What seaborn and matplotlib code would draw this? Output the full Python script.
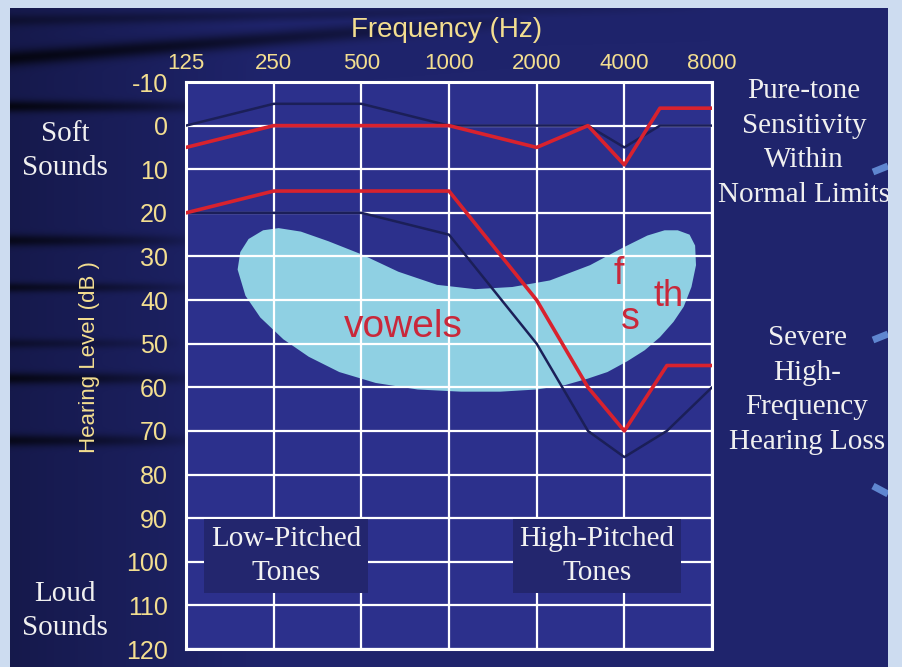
import numpy as np
import pandas as pd
import matplotlib
matplotlib.use("Agg")
import matplotlib.pyplot as plt
import seaborn as sns

# ---- data ----
freq_ticks = [125, 250, 500, 1000, 2000, 4000, 8000]
db_ticks = list(range(-10, 130, 10))

# normal-limits audiogram (red) and its dark reference trace
normal_freq = [125, 250, 500, 1000, 2000, 3000, 4000, 5300, 8000]
normal_db = [5, 0, 0, 0, 5, 0, 9, -4, -4]
normal_ref_freq = [125, 250, 500, 1000, 2000, 3000, 4000, 5300, 8000]
normal_ref_db = [0, -5, -5, 0, 0, 0, 5, 0, 0]

# severe high-frequency loss (red) and its dark reference trace
loss_freq = [125, 250, 500, 1000, 2000, 3000, 4000, 5600, 8000]
loss_db = [20, 15, 15, 15, 40, 60, 70, 55, 55]
loss_ref_freq = [125, 250, 500, 1000, 2000, 3000, 4000, 5600, 8000]
loss_ref_db = [20, 20, 20, 25, 50, 70, 76, 70, 60]

# "speech banana" outline (Hz, dB)
blob_freq = [230, 260, 310, 385, 500, 670, 910, 1230, 1650, 2220, 3050, 3950,
             4800, 5500, 6100, 6700, 7000, 7050, 6800, 6400, 5900, 5300, 4700,
             4100, 3500, 3000, 2500, 2000, 1500, 1100, 780, 560, 420, 330, 270,
             225, 200, 188, 192, 205]
blob_db = [24, 23.5, 24.3, 26.5, 29.5, 33.5, 36.5, 37.5, 37, 35.5, 32, 28,
           25.2, 24, 24, 25, 27.5, 32, 37, 41.5, 45, 48.5, 51.5, 54, 56.5, 58,
           59.5, 60.5, 61, 61, 60.5, 59, 56.5, 53, 49, 44, 39, 33, 29, 26]

W, H = 902, 667
def fx(x):
    return x / W
def fy(y):
    return 1 - y / H

sns.set_style("white")
plt.rcParams['font.family'] = ['Liberation Sans', 'DejaVu Sans']

fig = plt.figure(figsize=(9.02, 6.67), dpi=100, facecolor='#cddcf0')

# ---- background panel with dark streaks ----
bg = fig.add_axes([fx(10), 0, fx(888) - fx(10), fy(8)])
bg.set_xlim(10, 888)
bg.set_ylim(667, 8)
bg.axis('off')
yy, xx = np.mgrid[8:667, 10:888].astype(float)
base = np.array([31, 36, 108]) / 255
shade = 0.7 + 0.3 * np.clip((xx - 10) / 260, 0, 1)
dark = np.zeros_like(xx)
streaks = [(58, -0.075, 8, 520, 0.75), (106, 0, 6, 210, 0.75), (240, 0, 6, 190, 0.65),
           (287, 0, 5, 190, 0.6), (343, 0, 5, 170, 0.4), (378, 0, 6, 190, 0.7),
           (440, 0, 6, 190, 0.65), (20, -0.02, 6, 700, 0.35)]
for y0, slope, w, xend, s in streaks:
    yc = y0 + slope * (xx - 10)
    fade = np.clip(1 - (xx - 10) / xend, 0, 1) ** 0.6
    dark = np.maximum(dark, s * np.exp(-((yy - yc) / w) ** 2) * fade)
img = base[None, None, :] * (shade * (1 - dark))[:, :, None]
bg.imshow(np.clip(img, 0, 1), extent=[10, 888, 667, 8], aspect='auto', zorder=0)
for y1, y2 in [(172, 166), (340, 334), (486, 494)]:
    bg.plot([873, 888], [y1, y2], color='#5f86d0', lw=5, solid_capstyle='butt', zorder=1)

# ---- audiogram axes ----
ax = fig.add_axes([fx(186), fy(649), fx(712) - fx(186), fy(82) - fy(649)])
ax.set_facecolor('#2c308c')
ax.set_xscale('log', base=2)
ax.set_xlim(125, 8000)
ax.set_ylim(120, -10)

ax.fill(blob_freq, blob_db, color='#8fd0e3', lw=0, zorder=1)

sns.lineplot(x=normal_ref_freq, y=normal_ref_db, color='#1b1f58', lw=1.8,
             estimator=None, sort=False, ax=ax, zorder=3)
sns.lineplot(x=loss_ref_freq, y=loss_ref_db, color='#1b1f58', lw=1.8,
             estimator=None, sort=False, ax=ax, zorder=3)
sns.lineplot(x=normal_freq, y=normal_db, color='#d8222e', lw=2.6,
             estimator=None, sort=False, ax=ax, zorder=4)
sns.lineplot(x=loss_freq, y=loss_db, color='#d8222e', lw=2.6,
             estimator=None, sort=False, ax=ax, zorder=4)

ax.set_xticks(freq_ticks)
ax.set_xticklabels([str(f) for f in freq_ticks])
ax.xaxis.set_minor_locator(matplotlib.ticker.NullLocator())
ax.set_yticks(db_ticks)
ax.set_yticklabels([str(d) for d in db_ticks])
ax.xaxis.tick_top()
yellow = '#f3de90'
ax.tick_params(axis='x', length=0, pad=6, labelcolor=yellow, labelsize=16)
ax.tick_params(axis='y', length=0, pad=13, labelcolor=yellow, labelsize=18)
ax.grid(True, color='white', lw=1.6, zorder=2)
ax.set_axisbelow(False)
for sp in ax.spines.values():
    sp.set_color('white')
    sp.set_linewidth(2.2)
ax.set_xlabel('')
ax.set_ylabel('')

# speech sounds
red_txt = '#c9283a'
ax.text(697, 48.5, 'vowels', color=red_txt, fontsize=28, ha='center', va='baseline', zorder=5)
ax.text(3830, 36.3, 'f', color=red_txt, fontsize=27, ha='center', va='baseline', zorder=5)
ax.text(4210, 46.6, 's', color=red_txt, fontsize=27, ha='center', va='baseline', zorder=5)
ax.text(5690, 41.4, 'th', color=red_txt, fontsize=26, ha='center', va='baseline', zorder=5)

serif = ['Liberation Serif', 'DejaVu Serif']
box = dict(boxstyle='square,pad=0.22', facecolor='#23266e', edgecolor='none')
fig.text(fx(286), fy(556), 'Low-Pitched\nTones', family=serif, fontsize=21, color='#f2f2f2',
         ha='center', va='center', linespacing=1.42, bbox=box, zorder=6)
fig.text(fx(597), fy(556), 'High-Pitched\nTones', family=serif, fontsize=21, color='#f2f2f2',
         ha='center', va='center', linespacing=1.42, bbox=box, zorder=6)

# outer labels
bg.text(447, 30, 'Frequency (Hz)', color=yellow, fontsize=20, ha='center', va='center')
bg.text(89, 357, 'Hearing Level (dB )', color=yellow, fontsize=16, rotation=90,
        ha='center', va='center')
for x, y, s in [(65, 151, 'Soft\nSounds'), (65, 611, 'Loud\nSounds'),
                (804, 143, 'Pure-tone\nSensitivity\nWithin\nNormal Limits'),
                (807, 390, 'Severe\nHigh-\nFrequency\nHearing Loss')]:
    bg.text(x, y, s, family=serif, fontsize=21, color='#f0f0f0', ha='center',
            va='center', linespacing=1.42, clip_on=True)

fig.savefig('out.png', dpi=100, facecolor=fig.get_facecolor())
